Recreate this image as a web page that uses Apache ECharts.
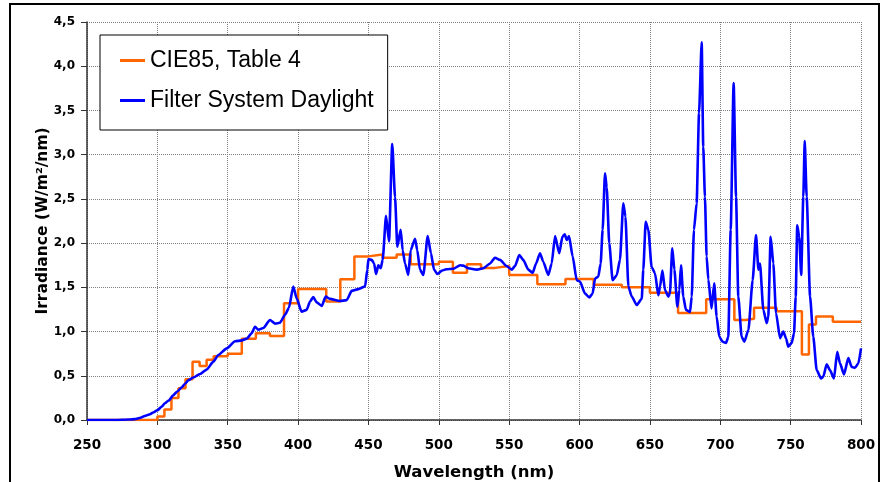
<!DOCTYPE html>
<html>
<head>
<meta charset="utf-8">
<script src="https://cdn.jsdelivr.net/npm/echarts@6/dist/echarts.min.js"></script>
<style>
html,body{margin:0;padding:0;background:#fff;}
#chart{width:881px;height:482px;}
</style>
</head>
<body>
<div id="chart"></div>
<script>
// ---- data ----
const seriesNames = ['CIE85, Table 4', 'Filter System Daylight'];

// CIE85 Table 4: each value holds from its wavelength to the next one
const cieWavelength = [250,300,305,310,315,320,325,330,335,340,350,360,370,380,390,400,420,430,440,450,460,470,480,500,510,520,530,540,550,570,590,610,630,650,670,690,710,718,724,740,758,763,768,780,800];
const cieValue      = [0,0.04,0.12,0.25,0.36,0.46,0.66,0.61,0.68,0.72,0.75,0.92,0.98,0.95,1.32,1.48,1.34,1.59,1.85,1.87,1.835,1.87,1.76,1.79,1.665,1.76,1.72,1.74,1.64,1.535,1.595,1.53,1.50,1.44,1.21,1.365,1.13,1.145,1.27,1.23,0.74,1.08,1.17,1.11,1.11];

// Filter System Daylight spectrum
const fsWavelength = [250,270,280,284,288,291,294.8,297,300,303,305.4,308,311.3,314,317.3,320,322,325.5,330.3,335,339.8,343.3,349.3,355.2,360,363.5,367,369.4,371.7,375.3,380,383.6,387.1,390.7,393.5,396.6,399,402.5,406.1,408.5,410.8,413.2,416.8,419.6,422.7,429.8,434.5,438.1,442.8,447.6,449.2,450,452.3,454,455.4,457,458.7,460.1,462.5,464.6,466.9,468.9,470.5,472.9,474.3,476,478.3,480,483.1,484.7,486.6,489,492.1,494.4,496.6,499,502.4,505.3,510.3,515.1,517.4,521,527,531.6,536.4,539.9,543.5,548.2,551.8,554.1,557.2,560,563.6,566.7,569.1,571.9,574.2,577.8,580.2,582.6,585.6,587.8,589.5,590.9,592.5,595.1,598,600.3,603.9,606.9,609.3,611,613.3,615,616.4,618.1,619.3,621.1,623.5,626.4,628.7,631.1,632.6,634.7,637.1,640.6,644.2,645.3,647,648.9,651.2,653.6,656,657.2,658.9,660.7,663.1,664.2,665.9,667.4,669.5,670.9,672.1,673.7,675.6,678.5,679.7,681.3,683.2,684.9,686.8,687.9,689.1,690.3,691.5,693.8,695.7,697.4,699.3,701.7,704.1,705.7,707.4,709.5,711.2,712.8,715.2,717.1,720,723,725.4,727.1,728.2,730.6,733,734.1,735.8,737.7,739.6,742.5,744.8,746.7,748.3,750.7,752.4,753.6,754.7,756.1,757.5,759,760,761.4,763.8,766.1,768.5,771.6,773.2,775.6,777.9,780.8,783.1,785.1,787.9,791,793.4,795.7,798.1,800];
const fsValue      = [0,0,0.005,0.01,0.025,0.045,0.065,0.085,0.11,0.15,0.19,0.22,0.28,0.32,0.37,0.415,0.45,0.48,0.52,0.57,0.66,0.735,0.81,0.89,0.90,0.92,0.98,1.055,1.02,1.04,1.13,1.09,1.10,1.19,1.27,1.51,1.375,1.225,1.245,1.34,1.39,1.33,1.29,1.395,1.37,1.345,1.355,1.46,1.48,1.51,1.70,1.82,1.81,1.77,1.65,1.75,1.715,1.81,2.31,2.02,3.12,2.52,1.96,2.15,1.92,1.77,1.64,1.92,2.05,1.92,1.70,1.64,2.08,1.885,1.70,1.65,1.69,1.705,1.71,1.75,1.745,1.715,1.70,1.715,1.77,1.835,1.81,1.74,1.70,1.74,1.865,1.81,1.70,1.665,1.77,1.885,1.79,1.64,1.77,2.08,1.885,2.07,2.10,2.035,2.08,1.85,1.58,1.565,1.43,1.385,1.43,1.60,1.62,1.77,2.15,2.79,2.63,2.0,1.58,1.635,1.81,2.45,2.3,1.51,1.395,1.30,1.37,1.70,2.24,2.15,1.73,1.66,1.41,1.51,1.69,1.47,1.395,1.43,1.94,1.70,1.28,1.47,1.75,1.395,1.245,1.22,1.395,2.15,2.45,3.47,4.27,3.09,2.525,1.85,1.59,1.26,1.545,1.17,0.94,0.885,0.87,0.94,2.15,3.81,2.525,1.395,0.94,0.885,1.02,1.58,2.09,1.70,1.77,1.245,1.095,1.17,2.07,1.77,1.21,0.925,1.0,0.925,0.83,0.87,0.98,1.395,2.20,2.07,1.64,2.525,3.155,2.525,1.395,0.94,0.565,0.47,0.49,0.63,0.565,0.47,0.77,0.64,0.515,0.70,0.60,0.59,0.64,0.81];

const xMin = 250, xMax = 800, xStep = 50;
const yMin = 0, yMax = 4.5, yStep = 0.5;
const xTitle = 'Wavelength (nm)';
const yTitle = 'Irradiance (W/m²/nm)';

// ---- chart ----
const cieData = cieWavelength.map((w, i) => [w, cieValue[i]]);
const fsData = fsWavelength.map((w, i) => [w, fsValue[i]]);

const axisFont = 'DejaVu Sans';
const chart = echarts.init(document.getElementById('chart'), null, {renderer: 'canvas'});
chart.setOption({
  animation: false,
  backgroundColor: '#ffffff',
  grid: {left: 87, right: 20, top: 22, bottom: 62, containLabel: false, outerBoundsMode: 'none'},
  graphic: [{
    type: 'rect',
    shape: {x: 10, y: 4, width: 869, height: 500},
    style: {fill: 'none', stroke: '#000', lineWidth: 2},
    silent: true,
    z: 0
  }],
  legend: {
    orient: 'vertical',
    left: 100,
    top: 35,
    padding: [14, 14, 18, 20],
    itemGap: 17,
    itemWidth: 25,
    itemHeight: 3,
    icon: 'rect',
    backgroundColor: '#fff',
    borderColor: '#000',
    borderWidth: 1,
    data: seriesNames,
    textStyle: {fontFamily: 'Liberation Sans, Arial', fontSize: 23, color: '#000', padding: [0, 0, 0, 0]}
  },
  xAxis: {
    type: 'value',
    min: xMin, max: xMax, interval: xStep,
    name: xTitle,
    nameLocation: 'middle',
    nameGap: 44,
    nameMoveOverlap: false,
    nameTextStyle: {fontFamily: axisFont, fontWeight: 'bold', fontSize: 16.5, color: '#000'},
    axisLine: {show: true, onZero: false, lineStyle: {color: '#333', width: 1.5}},
    axisTick: {show: true, inside: false, length: 5, lineStyle: {color: '#333'}},
    axisLabel: {margin: 18, fontFamily: axisFont, fontWeight: 'bold', fontSize: 13.5, color: '#000', showMinLabel: true, showMaxLabel: true},
    splitLine: {show: true, lineStyle: {color: '#808080', type: 'dotted', width: 1}}
  },
  yAxis: {
    type: 'value',
    min: yMin, max: yMax, interval: yStep,
    name: yTitle,
    nameLocation: 'middle',
    nameGap: 36,
    nameMoveOverlap: false,
    nameRotate: 90,
    nameTextStyle: {fontFamily: axisFont, fontWeight: 'bold', fontSize: 15.5, color: '#000'},
    axisLine: {show: true, lineStyle: {color: '#333', width: 1.5}},
    axisTick: {show: true, inside: false, length: 6, lineStyle: {color: '#333'}},
    axisLabel: {margin: 12, fontFamily: axisFont, fontWeight: 'bold', fontSize: 12, color: '#000',
      formatter: v => v.toFixed(1).replace('.', ',')},
    splitLine: {show: true, lineStyle: {color: '#808080', type: 'dotted', width: 1}}
  },
  series: [
    {
      name: seriesNames[0],
      type: 'line',
      step: 'end',
      data: cieData,
      showSymbol: false,
      symbol: 'none',
      color: '#FF6600',
      lineStyle: {color: '#FF6600', width: 2.5},
      z: 2
    },
    {
      name: seriesNames[1],
      type: 'line',
      data: fsData,
      showSymbol: false,
      symbol: 'none',
      smooth: 0.2,
      smoothMonotone: 'x',
      color: '#0000FF',
      lineStyle: {color: '#0000FF', width: 2.6},
      z: 3
    }
  ]
});
</script>
</body>
</html>
